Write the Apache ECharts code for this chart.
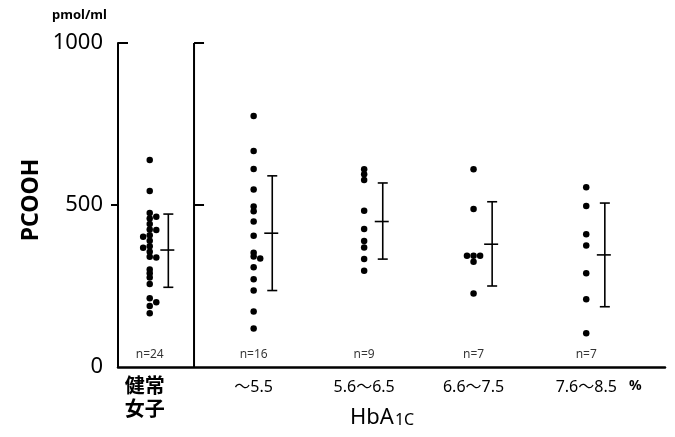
<!DOCTYPE html>
<html>
<head>
<meta charset="utf-8">
<script src="https://cdn.jsdelivr.net/npm/echarts@6/dist/echarts.min.js"></script>
<style>
  html, body { margin: 0; padding: 0; background: #fff; }
  #chart { width: 675px; height: 437px; }
</style>
</head>
<body>
<div id="chart"></div>
<script>
  // groups along the bottom
  var categories = ['健常\n女子', '～5.5', '5.6～6.5', '6.6～7.5', '7.6～8.5'];
  var groupPos = [0.29, 1.24, 2.25, 3.25, 4.28];

  // PCOOH values (pmol/ml) per group, with side of the dot column (-1 left, 0 centre, 1 right)
  var healthy = [639, 543, 475, 458, 441, 424, 407, 390, 373, 356, 340, 301, 289, 276, 256, 212, 188, 166, 464, 423, 338, 200, 402, 368];
  var healthySide = [0, 0, 0, 0, 0, 0, 0, 0, 0, 0, 0, 0, 0, 0, 0, 0, 0, 0, 1, 1, 1, 1, -1, -1];
  var hba55 = [775, 667, 611, 548, 495, 481, 449, 405, 353, 341, 308, 271, 236, 171, 119, 335];
  var hba55Side = [0, 0, 0, 0, 0, 0, 0, 0, 0, 0, 0, 0, 0, 0, 0, 1];
  var hba65 = [610, 595, 577, 482, 426, 389, 369, 333, 297];
  var hba65Side = [0, 0, 0, 0, 0, 0, 0, 0, 0];
  var hba75 = [610, 488, 343, 325, 227, 343, 343];
  var hba75Side = [0, 0, 0, 0, 0, -1, 1];
  var hba85 = [555, 497, 410, 375, 289, 209, 104];
  var hba85Side = [0, 0, 0, 0, 0, 0, 0];

  // mean and mean ± SD
  var means = [361, 413, 449, 379, 346];
  var sdLow = [246, 236, 333, 250, 186];
  var sdHigh = [472, 590, 568, 510, 506];

  var yTicks = [0, 500, 1000];

  var groups = [healthy, hba55, hba65, hba75, hba85];
  var sides = [healthySide, hba55Side, hba65Side, hba75Side, hba85Side];

  var font = '"Noto Sans", "Noto Sans CJK JP", sans-serif';
  var jitter = 0.06;
  var barOffset = 0.17;
  var panelSplit = 0.695;

  var dots = [];
  groups.forEach(function (vals, g) {
    vals.forEach(function (v, i) {
      dots.push([groupPos[g] + sides[g][i] * jitter, v]);
    });
  });

  var bars = means.map(function (m, g) {
    return [groupPos[g] + barOffset, m, sdLow[g], sdHigh[g]];
  });

  var chart = echarts.init(document.getElementById('chart'));

  chart.setOption({
    animation: false,
    grid: { left: 118, right: 10, top: 43, bottom: 70, containLabel: false },
    xAxis: {
      type: 'value', min: 0, max: 5,
      splitLine: { show: false },
      axisTick: { show: false },
      axisLine: { show: true, onZero: false, lineStyle: { color: '#000', width: 2.5 } },
      axisLabel: {
        show: true,
        customValues: groupPos,
        margin: 9,
        fontFamily: font,
        fontSize: 16,
        color: '#000',
        lineHeight: 22,
        formatter: function (v) {
          for (var i = 0; i < groupPos.length; i++) {
            if (Math.abs(groupPos[i] - v) < 1e-6) {
              return i === 0 ? '{h|' + categories[i].replace('\n', '}\n{h|') + '}' : categories[i];
            }
          }
          return '';
        },
        rich: {
          h: { fontSize: 20, fontWeight: 'bold', lineHeight: 23, color: '#000', fontFamily: font, padding: [0, 0, 0, -10] }
        }
      }
    },
    yAxis: {
      type: 'value', min: 0, max: 1000, interval: 500,
      splitLine: { show: false },
      axisLine: { show: true, lineStyle: { color: '#000', width: 2 } },
      axisTick: { show: true, customValues: [500], length: 7, lineStyle: { color: '#000', width: 2 } },
      axisLabel: {
        customValues: yTicks,
        margin: 15, fontFamily: font, fontSize: 22, color: '#000',
        formatter: function (v) { return String(v); }
      }
    },
    graphic: [
      { type: 'text', left: 52, top: 9, style: { text: 'pmol/ml', font: 'bold 13px ' + font, fill: '#000' } },
      { type: 'text', x: 31, y: 200, rotation: Math.PI / 2, style: { text: 'PCOOH', font: 'bold 23px ' + font, fill: '#000', align: 'center', verticalAlign: 'middle' } },
      { type: 'text', left: 629, top: 379, style: { text: '%', font: 'bold 14px ' + font, fill: '#000' } },
      {
        type: 'text', left: 350, top: 407,
        style: {
          text: '{a|HbA}{b|1C}',
          rich: {
            a: { fontSize: 22, fontFamily: font, fill: '#000', verticalAlign: 'bottom' },
            b: { fontSize: 16, fontFamily: font, fill: '#000', verticalAlign: 'bottom', padding: [0, 0, 1, 1] }
          }
        }
      }
    ],
    series: [
      {
        // panel frame: second vertical line and small ticks
        type: 'custom',
        silent: true,
        data: [[0, 0]],
        renderItem: function (params, api) {
          var s = { stroke: '#000', lineWidth: 2 };
          var p0 = api.coord([0, 1000]);
          var a = api.coord([panelSplit, 0]);
          var b = api.coord([panelSplit, 1000]);
          var m = api.coord([panelSplit, 500]);
          return {
            type: 'group',
            children: [
              { type: 'line', shape: { x1: p0[0], y1: p0[1], x2: p0[0] + 10, y2: p0[1] }, style: s },
              { type: 'line', shape: { x1: a[0], y1: a[1], x2: b[0], y2: b[1] }, style: s },
              { type: 'line', shape: { x1: b[0], y1: b[1], x2: b[0] + 10, y2: b[1] }, style: s },
              { type: 'line', shape: { x1: m[0], y1: m[1], x2: m[0] + 10, y2: m[1] }, style: s }
            ]
          };
        }
      },
      {
        type: 'scatter',
        symbol: 'circle',
        symbolSize: 6.5,
        itemStyle: { color: '#000', opacity: 1 },
        data: dots
      },
      {
        // mean ± SD bars
        type: 'custom',
        data: bars,
        renderItem: function (params, api) {
          var x = api.value(0);
          var mean = api.coord([x, api.value(1)]);
          var lo = api.coord([x, api.value(2)]);
          var hi = api.coord([x, api.value(3)]);
          var s = { stroke: '#000', lineWidth: 1.6 };
          return {
            type: 'group',
            children: [
              { type: 'line', shape: { x1: hi[0], y1: hi[1], x2: lo[0], y2: lo[1] }, style: s },
              { type: 'line', shape: { x1: hi[0] - 5, y1: hi[1], x2: hi[0] + 5, y2: hi[1] }, style: s },
              { type: 'line', shape: { x1: lo[0] - 5, y1: lo[1], x2: lo[0] + 5, y2: lo[1] }, style: s },
              { type: 'line', shape: { x1: mean[0] - 8, y1: mean[1], x2: mean[0] + 6, y2: mean[1] }, style: s }
            ]
          };
        }
      },
      {
        // n labels
        type: 'scatter',
        symbolSize: 0,
        silent: true,
        data: groups.map(function (vals, g) { return [groupPos[g], 0, vals.length]; }),
        label: {
          show: true, position: 'top', distance: 6,
          fontFamily: font, fontSize: 12, color: '#000',
          formatter: function (p) { return 'n=' + p.value[2]; }
        }
      }
    ]
  });
</script>
</body>
</html>
